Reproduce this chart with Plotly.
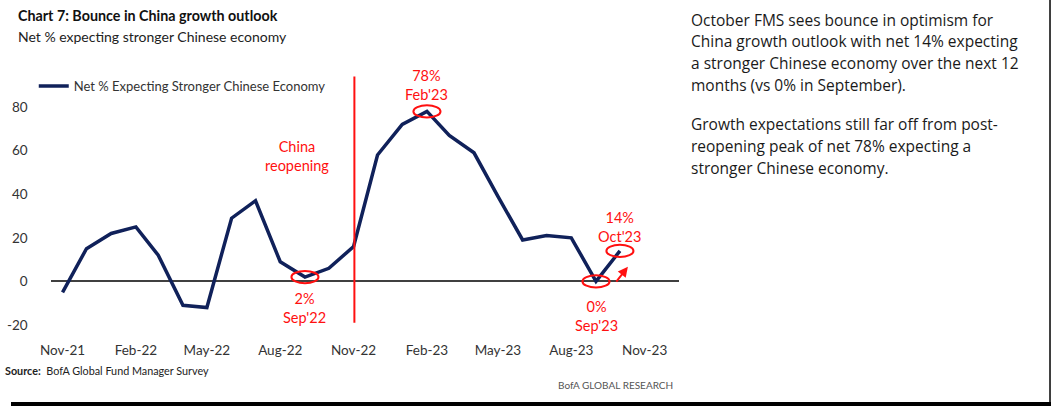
import plotly.graph_objects as go
from datetime import datetime, timedelta

# ---------------- data ----------------
months = ["2021-11", "2021-12", "2022-01", "2022-02", "2022-03", "2022-04",
          "2022-05", "2022-06", "2022-07", "2022-08", "2022-09", "2022-10",
          "2022-11", "2022-12", "2023-01", "2023-02", "2023-03", "2023-04",
          "2023-05", "2023-06", "2023-07", "2023-08", "2023-09", "2023-10"]
net_pct = [-5, 15, 22, 25, 12, -11, -12, 29, 37, 9, 2, 6,
           16, 58, 72, 78, 67, 59, 39, 19, 21, 20, 0, 14]
tick_months = ["2021-11", "2022-02", "2022-05", "2022-08", "2022-11",
               "2023-02", "2023-05", "2023-08", "2023-11"]
tick_labels = ["Nov-21", "Feb-22", "May-22", "Aug-22", "Nov-22",
               "Feb-23", "May-23", "Aug-23", "Nov-23"]
y_ticks = [-20, 0, 20, 40, 60, 80]
y_tick_labels = ["-20", "0", "20", "40", "60", "80"]
reopen_month = "2022-11"
# (month, label, label offset in % points)
highlights = [("2022-09", "2%<br>Sep'22", -5),
              ("2023-02", "78%<br>Feb'23", 3.0),
              ("2023-09", "0%<br>Sep'23", -6.5),
              ("2023-10", "14%<br>Oct'23", 2.0)]

W, H = 1051, 412
RED = "#ff1010"
NAVY = "#10215a"
NARROW = "Lato, Liberation Sans Narrow, DejaVu Sans Condensed, sans-serif"
BODY = "Open Sans, Noto Sans, sans-serif"


def d(m, shift=0):
    return datetime.strptime(m + "-01", "%Y-%m-%d") + timedelta(days=shift)


x_dates = [d(m) for m in months]

fig = go.Figure()
fig.add_trace(go.Scatter(
    x=x_dates, y=net_pct, mode="lines",
    line=dict(color=NAVY, width=3.5),
    name="Net % Expecting Stronger Chinese Economy",
))

# plot area in pixels
L, R, T, B = 40, 675, 71, 332
fig.update_layout(
    width=W, height=H,
    margin=dict(l=0, r=0, t=0, b=0),
    paper_bgcolor="white", plot_bgcolor="white",
    font=dict(family=NARROW, size=13, color="#333333"),
    showlegend=True,
    legend=dict(x=23 / W, y=1 - 72 / H, xanchor="left", yanchor="top",
                bgcolor="rgba(0,0,0,0)", font=dict(size=13, color="#333333"),
                itemwidth=30),
    xaxis=dict(domain=[L / W, R / W], type="date",
               range=[d("2021-11", -15), d("2023-12", 13)],
               tickvals=[d(m) for m in tick_months], ticktext=tick_labels,
               showgrid=False, zeroline=False, showline=False, ticks="",
               ticklabelstandoff=13,
               tickfont=dict(size=13.5, color="#333333")),
    yaxis=dict(domain=[1 - B / H, 1 - T / H], range=[-21, 97],
               tickvals=y_ticks, ticktext=y_tick_labels, showgrid=False,
               zeroline=True, zerolinecolor="#404040", zerolinewidth=1.5,
               showline=False, ticks="", ticklabelstandoff=22,
               tickfont=dict(size=13.5, color="#333333")),
)

# reopening line
fig.add_shape(type="line", xref="x", yref="y",
              x0=d(reopen_month, 1), x1=d(reopen_month, 1), y0=-19, y1=94,
              line=dict(color=RED, width=2))
fig.add_annotation(x=d(reopen_month, -71), y=57.5, xref="x", yref="y",
                   text="China<br>reopening", showarrow=False,
                   font=dict(family=NARROW, size=14.5, color=RED))

# highlight ellipses and labels
val = dict(zip(months, net_pct))
for m, txt, off in highlights:
    v = val[m]
    fig.add_shape(type="circle", xref="x", yref="y",
                  x0=d(m, -17), x1=d(m, 17), y0=v - 2.8, y1=v + 2.8,
                  line=dict(color=RED, width=2))
    fig.add_annotation(x=d(m), y=v + off,
                       xref="x", yref="y", text=txt, showarrow=False,
                       yanchor="bottom" if off > 0 else "top",
                       font=dict(family=NARROW, size=14.5, color=RED))

# arrow
fig.add_annotation(x=d("2023-10", 10), y=6.7, ax=d("2023-09", 24), ay=-0.8,
                   xref="x", yref="y", axref="x", ayref="y", text="",
                   showarrow=True, arrowhead=2, arrowsize=1, arrowwidth=2,
                   arrowcolor=RED)

# titles
fig.add_annotation(x=5 / W, y=1 - 16 / H, xref="paper", yref="paper",
                   xanchor="left", yanchor="middle", showarrow=False,
                   text="<b>Chart 7: Bounce in China growth outlook</b>",
                   font=dict(family=NARROW, size=14.3, color="#111111"))
fig.add_annotation(x=5 / W, y=1 - 37 / H, xref="paper", yref="paper",
                   xanchor="left", yanchor="middle", showarrow=False,
                   text="Net % expecting stronger Chinese economy",
                   font=dict(family=NARROW, size=14, color="#222222"))

# source
fig.add_annotation(x=-8 / W, y=1 - 376 / H, xref="paper", yref="paper",
                   xanchor="left", yanchor="middle", showarrow=False,
                   align="left",
                   text="<b>Source:</b>&nbsp; BofA Global Fund Manager Survey",
                   font=dict(family=NARROW, size=10.8, color="#222222"))
fig.add_annotation(x=671 / W, y=1 - 391 / H, xref="paper", yref="paper",
                   xanchor="right", yanchor="middle", showarrow=False,
                   text="BofA GLOBAL RESEARCH",
                   font=dict(family=NARROW, size=10, color="#555555"))

# commentary
lines = [("October FMS sees bounce in optimism for", 20),
         ("China growth outlook with net 14% expecting", 42),
         ("a stronger Chinese economy over the next 12", 64),
         ("months (vs 0% in September).", 86),
         ("Growth expectations still far off from post-", 126),
         ("reopening peak of net 78% expecting a", 148),
         ("stronger Chinese economy.", 170)]
for txt, yy in lines:
    fig.add_annotation(x=685 / W, y=1 - yy / H, xref="paper", yref="paper",
                       xanchor="left", yanchor="middle", showarrow=False,
                       text=txt, font=dict(family=BODY, size=15.5, color="#1a1a1a"))

# frame
fig.add_shape(type="rect", xref="paper", yref="paper",
              x0=0, x1=1, y0=0, y1=4 / H, fillcolor="black", line_width=0)
fig.add_shape(type="line", xref="paper", yref="paper",
              x0=1050 / W, x1=1050 / W, y0=0, y1=1,
              line=dict(color="black", width=1.5))

fig.write_html("out.html", config={"displayModeBar": False},
               post_script="document.body.style.margin='0';document.body.style.overflow='hidden';")
